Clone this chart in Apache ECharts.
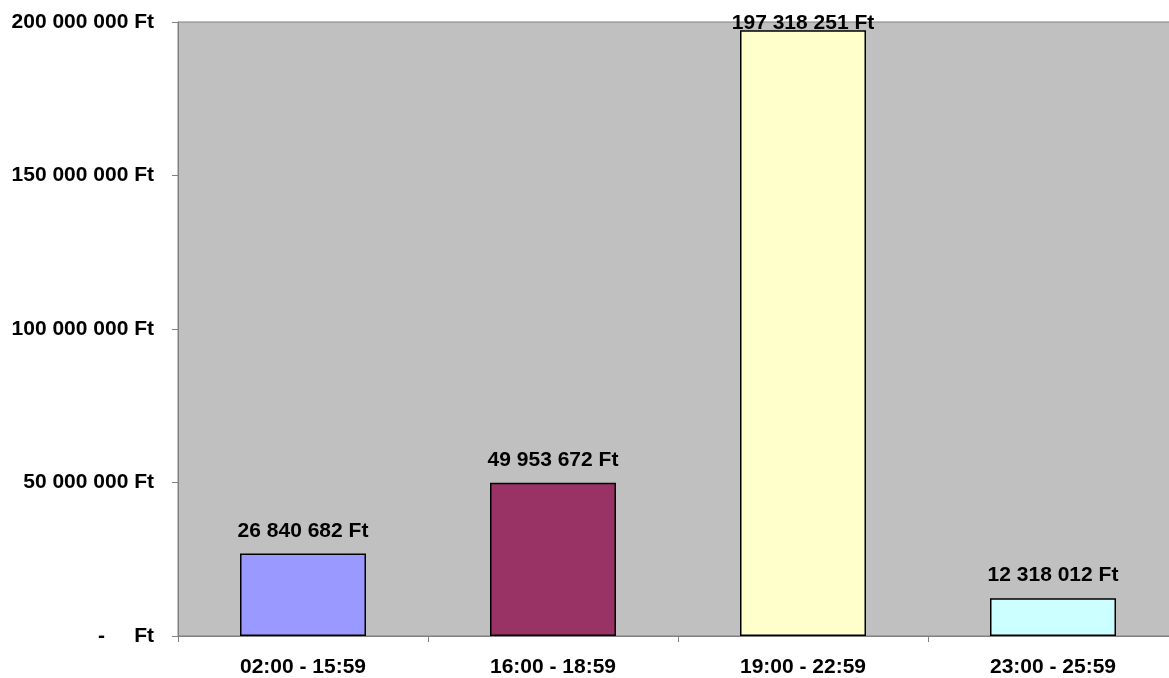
<!DOCTYPE html>
<html>
<head>
<meta charset="utf-8">
<script src="https://cdn.jsdelivr.net/npm/echarts@6/dist/echarts.min.js"></script>
<style>html,body{margin:0;padding:0;background:#fff;}#c{width:1169px;height:678px;}</style>
</head>
<body>
<div id="c"></div>
<script>
var categories = ['02:00 - 15:59', '16:00 - 18:59', '19:00 - 22:59', '23:00 - 25:59'];
var values = [26840682, 49953672, 197318251, 12318012];
var colors = ['#9999ff', '#993366', '#ffffcc', '#ccffff'];
var labelDistances = [12, 12, -3, 12];

function fmt(v) {
  if (v === 0) return '-     Ft';
  return String(Math.round(v)).replace(/\B(?=(\d{3})+(?!\d))/g, ' ') + ' Ft';
}

var font = '"Liberation Sans", Arial, sans-serif';
var chart = echarts.init(document.getElementById('c'));
chart.setOption({
  animation: false,
  backgroundColor: '#ffffff',
  grid: {
    left: 178, top: 22, right: -9, bottom: 42,
    outerBoundsMode: 'none', containLabel: false,
    show: true, backgroundColor: '#c0c0c0', borderColor: '#808080', borderWidth: 1
  },
  xAxis: {
    type: 'category',
    data: categories,
    axisLine: { lineStyle: { color: '#808080', width: 1 } },
    axisTick: { show: true, alignWithLabel: false, length: 6, lineStyle: { color: '#808080' } },
    axisLabel: { color: '#000', fontWeight: 'bold', fontSize: 21, fontFamily: font, margin: 21 }
  },
  yAxis: {
    type: 'value',
    min: 0, max: 200000000, interval: 50000000,
    axisLine: { show: true, lineStyle: { color: '#808080', width: 1 } },
    axisTick: { show: true, length: 6, lineStyle: { color: '#808080' } },
    splitLine: { show: false },
    axisLabel: { color: '#000', fontWeight: 'bold', fontSize: 21, fontFamily: font, margin: 24, formatter: fmt }
  },
  series: [{
    type: 'bar',
    barWidth: 126,
    data: values.map(function (v, i) {
      return {
        value: v,
        itemStyle: { color: colors[i], borderColor: '#000', borderWidth: 1.5 },
        label: { distance: labelDistances[i] }
      };
    }),
    label: {
      show: true, position: 'top', color: '#000', fontWeight: 'bold', fontSize: 21, fontFamily: font,
      formatter: function (p) { return fmt(p.value); }
    }
  }]
});
</script>
</body>
</html>
